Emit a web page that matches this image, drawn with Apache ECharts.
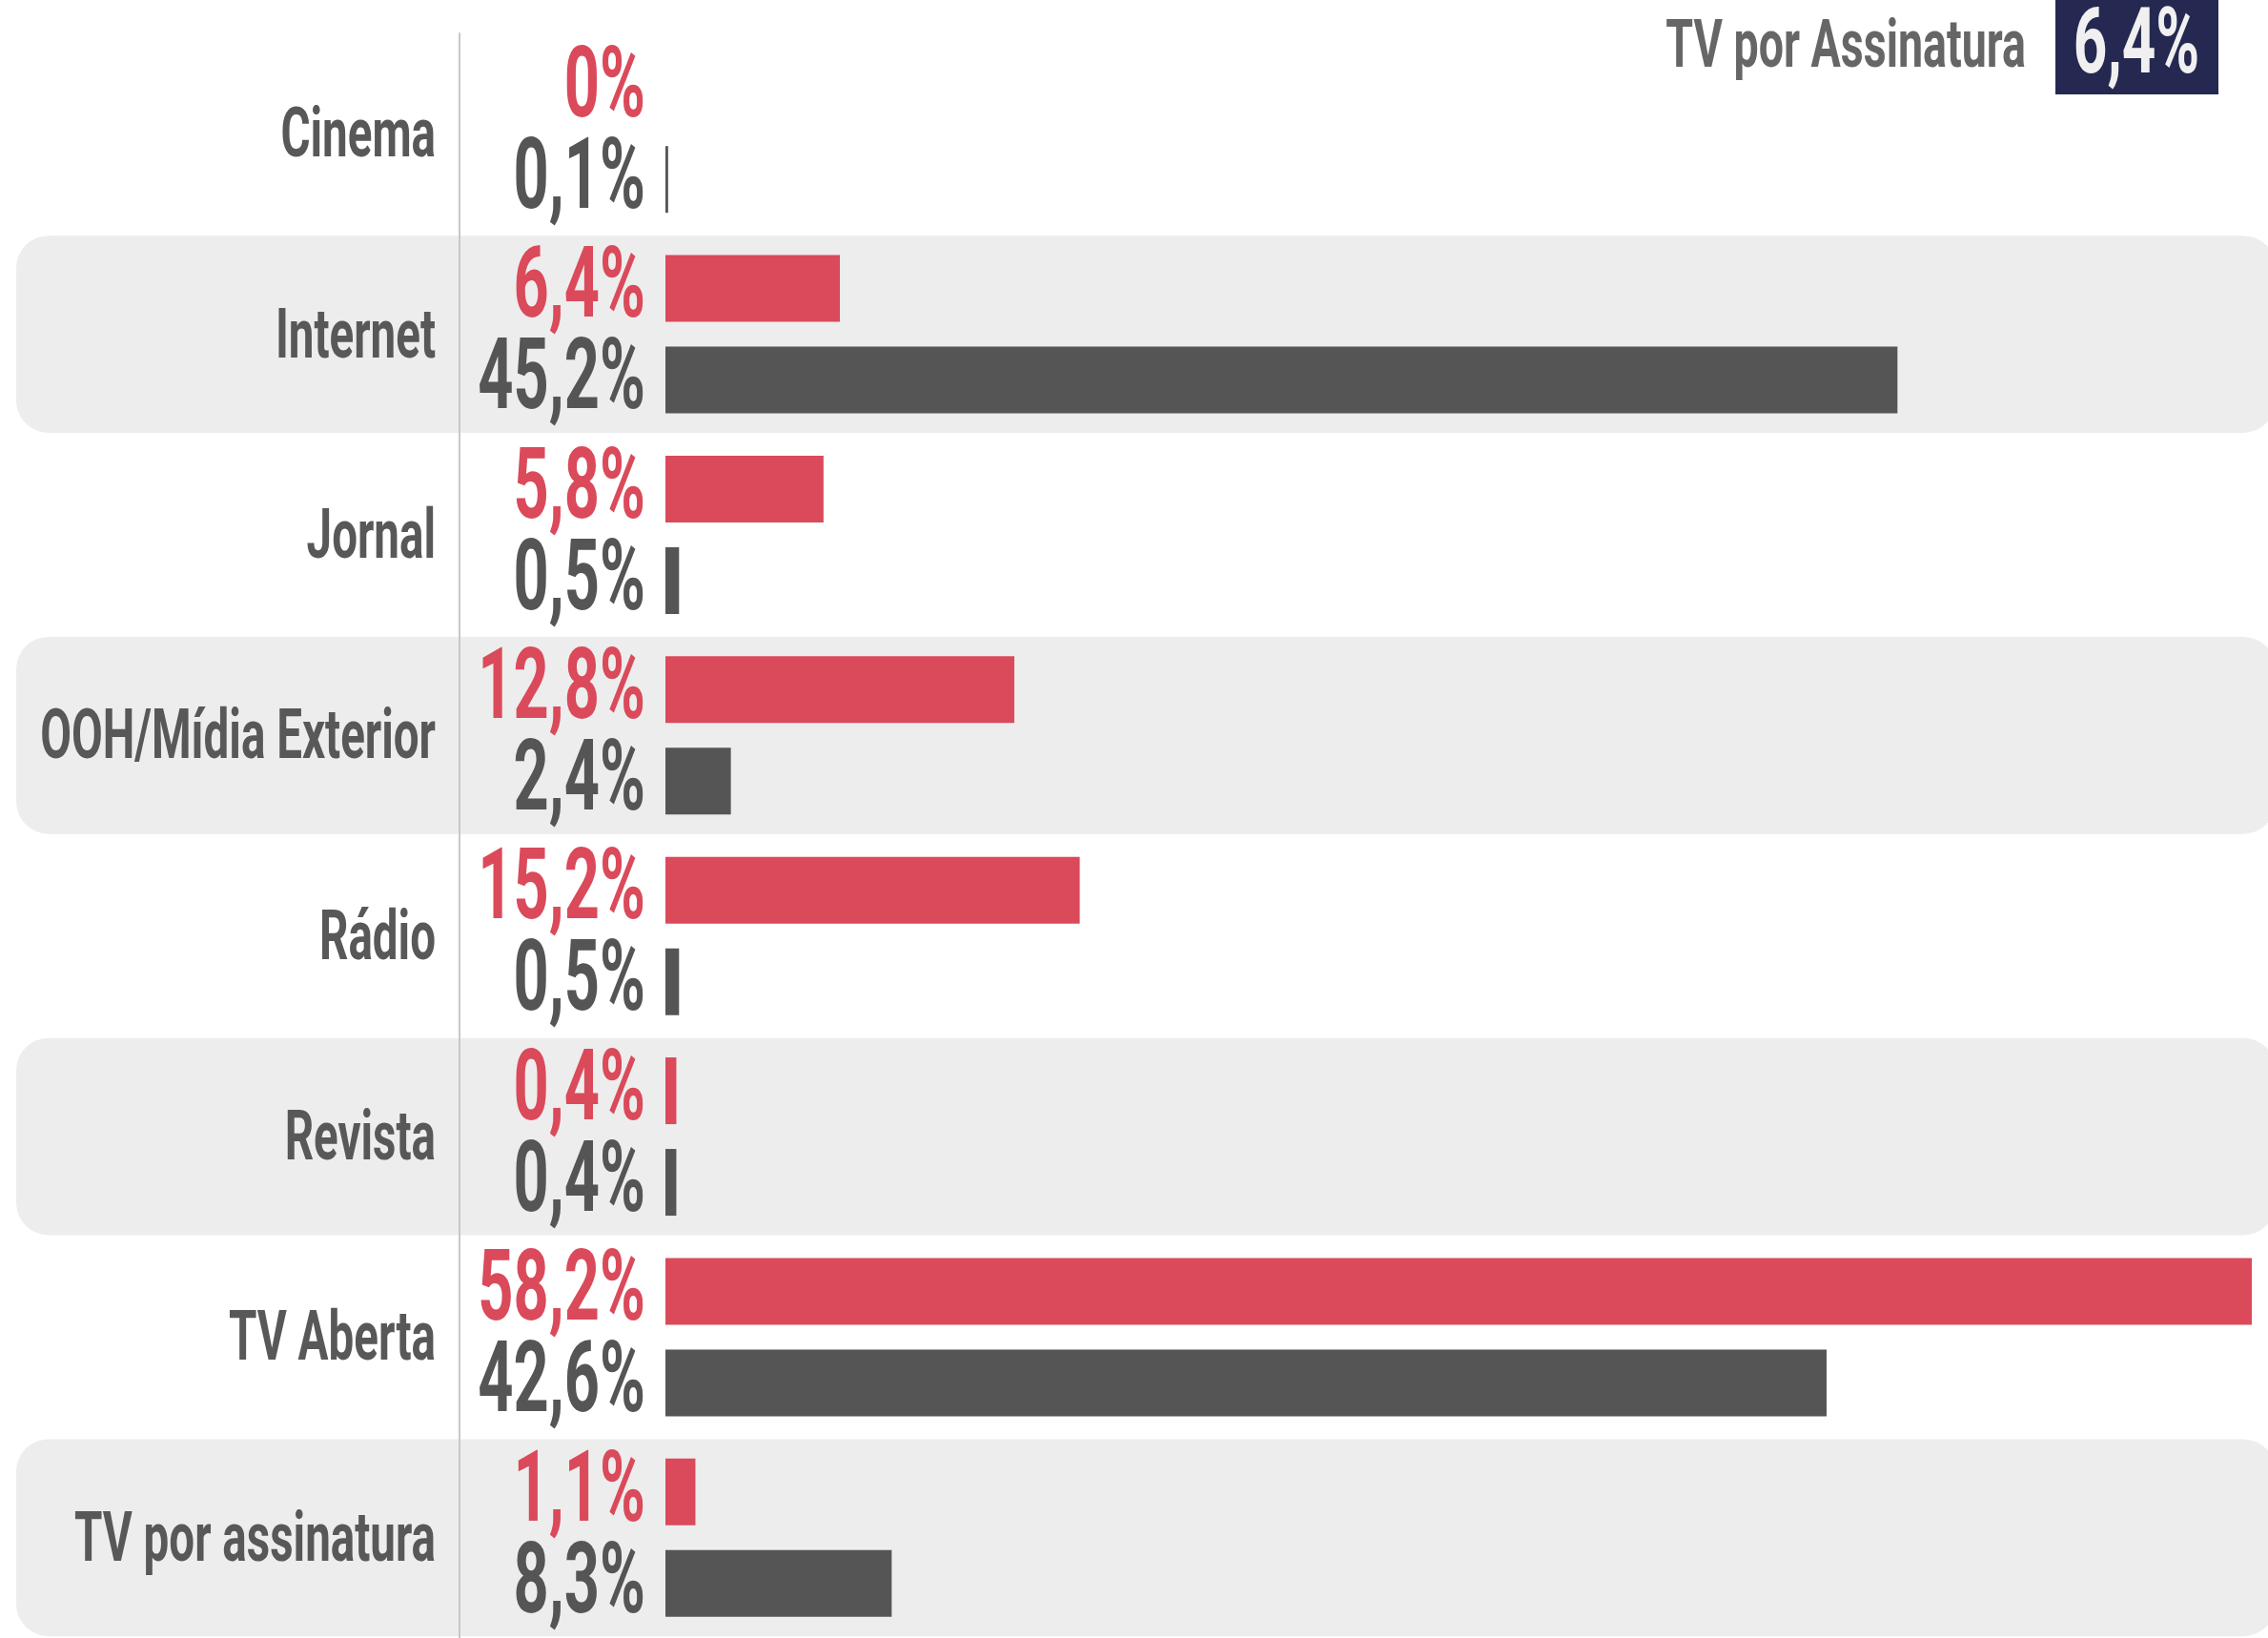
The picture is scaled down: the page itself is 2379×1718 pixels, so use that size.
<!DOCTYPE html>
<html><head><meta charset="utf-8">
<script src="https://cdn.jsdelivr.net/npm/echarts@6/dist/echarts.min.js"></script>
<style>html,body{margin:0;padding:0;background:#fff}#c{width:2379px;height:1718px}</style>
</head><body><div id="c"></div>
<script>
const categories = ['Cinema', 'Internet', 'Jornal', 'OOH/Mídia Exterior', 'Rádio', 'Revista', 'TV Aberta', 'TV por assinatura'];
const redValues = [0, 6.4, 5.8, 12.8, 15.2, 0.4, 58.2, 1.1];
const grayValues = [0.1, 45.2, 0.5, 2.4, 0.5, 0.4, 42.6, 8.3];
const highlightName = 'TV por Assinatura';
const highlightValue = '6,4%';

const RED = '#da4a5a', GRAY = '#565556', LABEL = '#585858';
const BAR_W = 70, GAP = 26;
const FONT = 'Roboto, "DejaVu Sans", sans-serif';
const fmt = v => v === 0 ? '0%' : v.toFixed(1).replace('.', ',') + '%';

const chart = echarts.init(document.getElementById('c'), null, {renderer: 'canvas'});

function textEl(x, y, text, fill, size, sx, align) {
  return {
    type: 'text', x: x, y: y, scaleX: sx, z2: 10,
    style: {text: text, fill: fill, font: 'bold ' + size + 'px ' + FONT,
      align: align, textAlign: align, verticalAlign: 'middle', textVerticalAlign: 'middle'}
  };
}

const idxData = categories.map((c, i) => [0, i]);

chart.setOption({
  animation: false,
  grid: {left: 698, right: 17, top: 35, height: 1693},
  xAxis: {type: 'value', min: 0, max: 58.2, show: false},
  yAxis: {
    type: 'category', data: categories, inverse: true, offset: 216,
    axisLine: {show: true, onZero: false, lineStyle: {color: '#c8c8c8', width: 2}},
    axisTick: {show: false}, axisLabel: {show: false}, splitLine: {show: false}
  },
  series: [
    {
      type: 'custom', name: 'bands', z: 0, silent: true,
      encode: {x: 0, y: 1}, data: idxData,
      renderItem: function (params, api) {
        const i = api.value(1);
        if (i % 2 === 0) return null;
        const c = api.coord([0, i]);
        const h = api.size([0, 1])[1] * 0.983;
        return {type: 'rect', shape: {x: 17, y: c[1] - h / 2, width: 2370, height: h, r: 34},
          style: {fill: '#ededed'}};
      }
    },
    {type: 'bar', name: 'red', data: redValues, barWidth: BAR_W, barGap: (GAP / BAR_W * 100) + '%',
      itemStyle: {color: RED}, z: 2},
    {type: 'bar', name: 'gray', data: grayValues, barWidth: BAR_W,
      itemStyle: {color: GRAY}, z: 2},
    {
      type: 'custom', name: 'labels', z: 5, silent: true,
      encode: {x: 0, y: 1}, data: idxData,
      renderItem: function (params, api) {
        const i = api.value(1);
        const c = api.coord([0, i]);
        const off = (BAR_W + GAP) / 2;
        return {type: 'group', children: [
          textEl(457, c[1] + 6, categories[i], LABEL, 72, 0.66, 'right'),
          textEl(c[0] - 21, c[1] - off + 4, fmt(redValues[i]), RED, 103, 0.63, 'right'),
          textEl(c[0] - 21, c[1] + off + 4, fmt(grayValues[i]), GRAY, 103, 0.63, 'right')
        ]};
      }
    }
  ],
  graphic: [
    {type: 'rect', shape: {x: 2156, y: -5, width: 171, height: 104}, style: {fill: '#252850'}, z: 20},
    {type: 'text', x: 2241, y: 52, scaleX: 0.64, z: 21,
      style: {text: highlightValue, fill: '#f0f0f0', font: 'bold 97px ' + FONT,
        align: 'center', textAlign: 'center', verticalAlign: 'middle', textVerticalAlign: 'middle'}},
    {type: 'text', x: 2125, y: 52, scaleX: 0.665, z: 21,
      style: {text: highlightName, fill: '#666666', font: 'bold 70px ' + FONT,
        align: 'right', textAlign: 'right', verticalAlign: 'middle', textVerticalAlign: 'middle'}}
  ]
});
</script>
</body></html>
